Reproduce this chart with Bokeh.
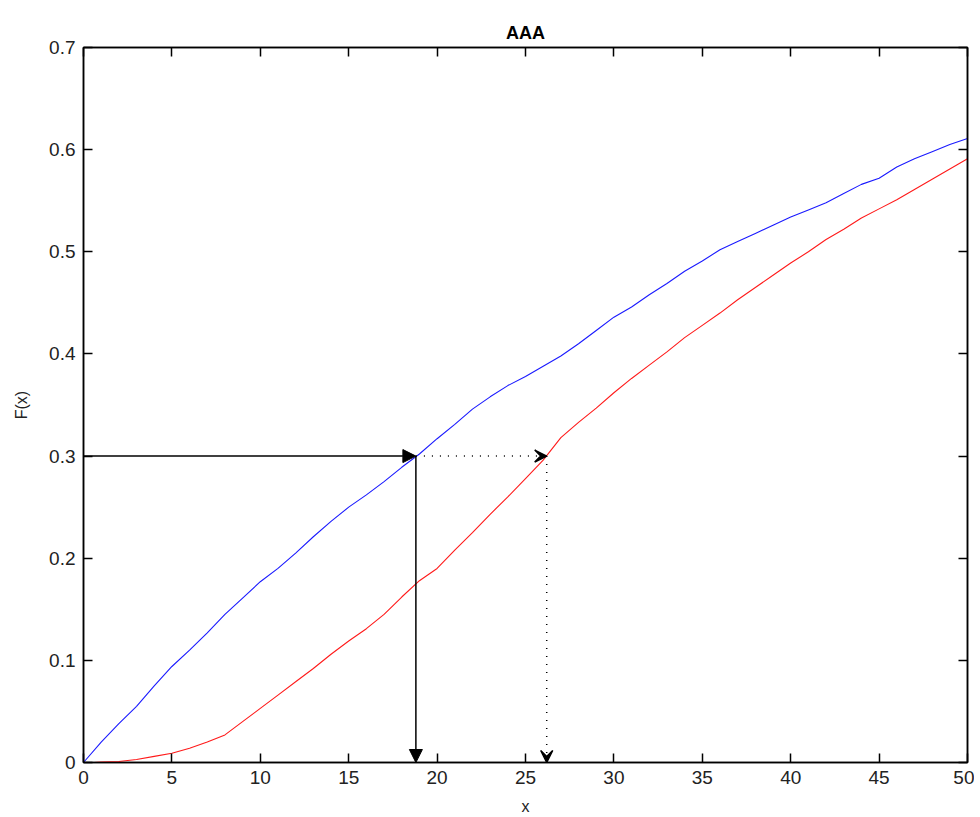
from bokeh.plotting import figure
from bokeh.models import LinearAxis, Range1d, Arrow, VeeHead, NormalHead, CustomJSTickFormatter, FixedTicker
from bokeh.embed import file_html
from bokeh.resources import INLINE

# ---- data ----
x_blue = list(range(0, 51))
y_blue = [0, 0.02, 0.038, 0.055, 0.075, 0.094, 0.11, 0.127, 0.145, 0.161, 0.177,
          0.19, 0.205, 0.221, 0.236, 0.25, 0.262, 0.275, 0.289, 0.302, 0.317,
          0.331, 0.346, 0.358, 0.369, 0.378, 0.388, 0.398, 0.41, 0.423, 0.436,
          0.446, 0.458, 0.469, 0.481, 0.491, 0.502, 0.51, 0.518, 0.526, 0.534,
          0.541, 0.548, 0.557, 0.566, 0.572, 0.583, 0.591, 0.598, 0.605, 0.611]
x_red = [0.6] + list(range(1, 51))
y_red = [0, 0.0005, 0.001, 0.003, 0.006, 0.009, 0.014, 0.02, 0.027, 0.04, 0.053,
         0.066, 0.079, 0.092, 0.106, 0.119, 0.131, 0.145, 0.162, 0.178, 0.19,
         0.208, 0.225, 0.243, 0.26, 0.278, 0.296, 0.318, 0.333, 0.347, 0.362,
         0.376, 0.389, 0.402, 0.416, 0.428, 0.44, 0.453, 0.465, 0.477, 0.489,
         0.5, 0.512, 0.522, 0.533, 0.542, 0.551, 0.561, 0.571, 0.581, 0.591]
level = 0.3
x_at_blue = 18.8
x_at_red = 26.2
x_ticks = [0, 5, 10, 15, 20, 25, 30, 35, 40, 45, 50]
y_ticks = [0, 0.1, 0.2, 0.3, 0.4, 0.5, 0.6, 0.7]

FONT = "Liberation Sans"

p = figure(width=974, height=817, output_backend="svg", toolbar_location=None,
           x_range=Range1d(0, 50), y_range=Range1d(0, 0.7),
           title="AAA", x_axis_label="x", y_axis_label="F(x)",
           min_border_left=83, min_border_right=7, min_border_top=47, min_border_bottom=53)
p.xgrid.visible = False
p.ygrid.visible = False
p.outline_line_color = "black"
p.outline_line_width = 1.5
p.title.align = "center"
p.title.vertical_align = "top"
p.title.text_font = FONT
p.title.text_font_size = "18px"
p.title.text_font_style = "bold"
p.title.text_color = "black"
p.title.standoff = 6

p.line(x_blue, y_blue, line_color="#1a1aff", line_width=1.1)
p.line(x_red, y_red, line_color="#ff1a1a", line_width=1.1)

# arrows
p.add_layout(Arrow(end=NormalHead(size=13, fill_color="black", line_color="black"),
                   x_start=0, y_start=level, x_end=x_at_blue, y_end=level,
                   line_color="black", line_width=1.5))
p.add_layout(Arrow(end=NormalHead(size=13, fill_color="black", line_color="black"),
                   x_start=x_at_blue, y_start=level, x_end=x_at_blue, y_end=0,
                   line_color="black", line_width=1.5))
p.add_layout(Arrow(end=VeeHead(size=12, fill_color="black", line_color="black", line_width=1.5),
                   x_start=x_at_blue, y_start=level, x_end=x_at_red, y_end=level,
                   line_color="black", line_width=1.5, line_dash="1 7"))
p.add_layout(Arrow(end=VeeHead(size=12, fill_color="black", line_color="black", line_width=1.5),
                   x_start=x_at_red, y_start=level, x_end=x_at_red, y_end=0,
                   line_color="black", line_width=1.5, line_dash="1 7"))

p.add_layout(LinearAxis(), "right")
p.add_layout(LinearAxis(), "above")

for ax in p.axis:
    ax.axis_line_color = "black"
    ax.axis_line_width = 1.5
    ax.major_tick_in = 9
    ax.major_tick_out = 0
    ax.minor_tick_in = 0
    ax.minor_tick_out = 0
    ax.major_tick_line_color = "black"
    ax.major_tick_line_width = 1.5
    ax.major_label_text_font = FONT
    ax.major_label_text_font_size = "19px"
    ax.major_label_text_color = "#222222"
    ax.axis_label_text_font = FONT
    ax.axis_label_text_font_size = "16px"
    ax.axis_label_text_font_style = "normal"
    ax.axis_label_text_color = "#222222"
    ax.major_label_standoff = 8

for ax in p.xaxis:
    ax.ticker = FixedTicker(ticks=x_ticks)
for ax in p.yaxis:
    ax.ticker = FixedTicker(ticks=y_ticks)
p.left[0].major_label_overrides = {0: "0"}

p.right[0].formatter = CustomJSTickFormatter(code="return ''")
p.above[0].formatter = CustomJSTickFormatter(code="return ''")
p.right[0].major_label_standoff = 0
p.above[0].major_label_standoff = 19
p.below[0].axis_label_standoff = 11
p.left[0].axis_label_standoff = 16

open("out.html", "w").write(file_html(p, INLINE))
